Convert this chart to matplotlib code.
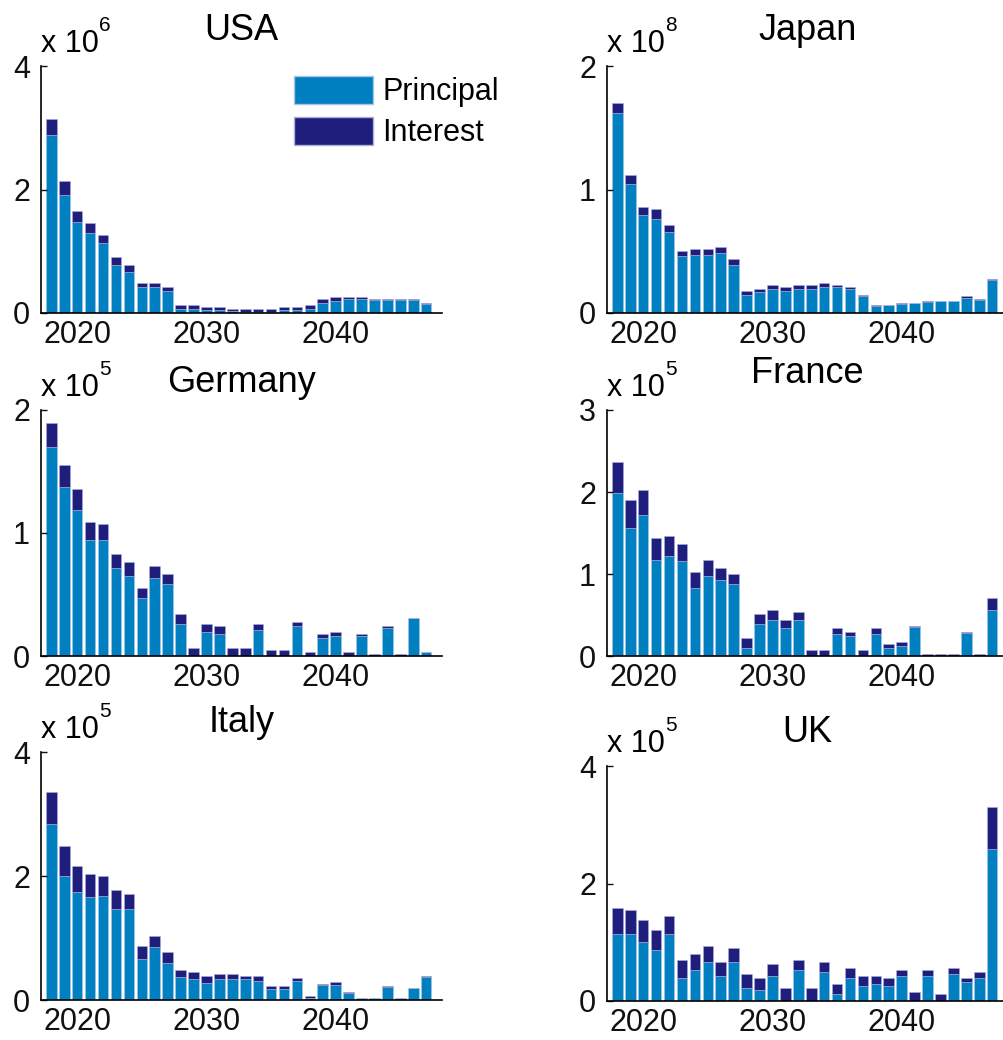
import numpy as np
import matplotlib
matplotlib.use("Agg")
import matplotlib.pyplot as plt
from matplotlib.patches import Patch

plt.rcParams['font.family'] = ['Liberation Sans', 'DejaVu Sans']

years = np.arange(2018, 2048)

# amounts in units of 10^exp, per country
usa_exp = 6
usa_principal = [2.88, 1.91, 1.47, 1.29, 1.13, 0.78, 0.67, 0.42, 0.42, 0.35, 0.065, 0.065, 0.053, 0.053, 0.027,
                 0.02, 0.02, 0.02, 0.045, 0.05, 0.065, 0.162, 0.2, 0.23, 0.23, 0.215, 0.215, 0.215, 0.215, 0.15]
usa_interest = [0.26, 0.22, 0.185, 0.166, 0.131, 0.126, 0.101, 0.065, 0.065, 0.07, 0.07, 0.07, 0.044, 0.044, 0.038,
                0.045, 0.045, 0.045, 0.052, 0.047, 0.07, 0.064, 0.06, 0.03, 0.03, 0.015, 0.015, 0.015, 0.015, 0.01]

japan_exp = 8
japan_principal = [1.623, 1.043, 0.795, 0.763, 0.652, 0.458, 0.472, 0.472, 0.485, 0.391, 0.148, 0.167, 0.194, 0.18, 0.194,
                   0.194, 0.21, 0.21, 0.194, 0.135, 0.059, 0.062, 0.073, 0.078, 0.092, 0.097, 0.098, 0.121, 0.108, 0.264]
japan_interest = [0.075, 0.076, 0.062, 0.078, 0.06, 0.046, 0.046, 0.046, 0.049, 0.046, 0.033, 0.027, 0.032, 0.03, 0.032,
                  0.032, 0.033, 0.016, 0.016, 0.013, 0.008, 0.005, 0.008, 0.003, 0.008, 0.003, 0.002, 0.014, 0.008, 0.011]

germany_exp = 5
germany_principal = [1.696, 1.376, 1.191, 0.947, 0.947, 0.719, 0.654, 0.475, 0.638, 0.589, 0.263, 0, 0.195, 0.182, 0,
                     0, 0.214, 0, 0, 0.247, 0, 0.149, 0.166, 0, 0.166, 0, 0.231, 0, 0.307, 0.033]
germany_interest = [0.195, 0.174, 0.163, 0.144, 0.13, 0.114, 0.111, 0.079, 0.095, 0.079, 0.082, 0.068, 0.065, 0.065, 0.068,
                    0.068, 0.046, 0.049, 0.049, 0.033, 0.033, 0.033, 0.032, 0.033, 0.016, 0.019, 0.016, 0.019, 0.005, 0]

france_exp = 5
france_principal = [1.982, 1.567, 1.718, 1.176, 1.225, 1.156, 0.834, 0.981, 0.932, 0.883, 0.102, 0.395, 0.444, 0.346, 0.444,
                    0, 0, 0.273, 0.248, 0, 0.273, 0.102, 0.126, 0.35, 0, 0, 0, 0.277, 0, 0.566]
france_interest = [0.387, 0.333, 0.305, 0.265, 0.24, 0.212, 0.192, 0.187, 0.138, 0.114, 0.118, 0.114, 0.114, 0.089, 0.089,
                   0.069, 0.069, 0.069, 0.045, 0.069, 0.069, 0.04, 0.045, 0.016, 0.028, 0.028, 0.028, 0.016, 0.028, 0.142]

italy_exp = 5
italy_principal = [2.846, 2.003, 1.75, 1.654, 1.68, 1.46, 1.46, 0.655, 0.848, 0.591, 0.365, 0.333, 0.268, 0.333, 0.333,
                   0.333, 0.3, 0.172, 0.172, 0.3, 0.03, 0.236, 0.236, 0.107, 0.038, 0.038, 0.204, 0.038, 0.193, 0.365]
italy_interest = [0.51, 0.483, 0.414, 0.381, 0.323, 0.312, 0.247, 0.214, 0.183, 0.182, 0.118, 0.118, 0.119, 0.086, 0.086,
                  0.054, 0.087, 0.053, 0.053, 0.054, 0.04, 0.022, 0.054, 0.027, 0.0, 0.0, 0.027, 0.0, 0.0, 0.022]

uk_exp = 5
uk_principal = [1.136, 1.136, 1.006, 0.875, 1.136, 0.398, 0.534, 0.665, 0.432, 0.665, 0.227, 0.193, 0.432, 0, 0.534,
                0, 0.494, 0.125, 0.398, 0.261, 0.295, 0.261, 0.432, 0, 0.432, 0, 0.466, 0.324, 0.398, 2.58]
uk_interest = [0.449, 0.409, 0.369, 0.33, 0.307, 0.295, 0.261, 0.267, 0.233, 0.238, 0.228, 0.199, 0.193, 0.222, 0.159,
               0.222, 0.171, 0.159, 0.165, 0.165, 0.131, 0.131, 0.091, 0.153, 0.091, 0.114, 0.097, 0.068, 0.096, 0.715]

countries = ['USA', 'Japan', 'Germany', 'France', 'Italy', 'UK']
principals = [usa_principal, japan_principal, germany_principal, france_principal, italy_principal, uk_principal]
interests = [usa_interest, japan_interest, germany_interest, france_interest, italy_interest, uk_interest]
exps = [usa_exp, japan_exp, germany_exp, france_exp, italy_exp, uk_exp]
yticks = [[0, 2, 4], [0, 1, 2], [0, 1, 2], [0, 1, 2, 3], [0, 2, 4], [0, 2, 4]]

c_princ = '#0080c0'
c_int = '#201e7c'

W, H = 1004, 1040
fig = plt.figure(figsize=(W / 100, H / 100), dpi=100)

# axes boxes in pixels: left, top, bottom (width is shared)
boxes = [(41, 66, 313), (607, 66, 313),
         (41, 410, 656), (607, 410, 656),
         (41, 752, 1000), (607, 766, 1001)]
title_pads = [19, 19, 13, 19.5, 14.5, 17.5]
axw = 400.7

for i in range(6):
    left, top, bottom = boxes[i]
    ax = fig.add_axes([left / W, (H - bottom) / H, axw / W, (bottom - top) / H])
    p = np.array(principals[i])
    q = np.array(interests[i])
    ax.bar(years, p, width=0.82, color=c_princ, edgecolor='#a9c6e6', linewidth=0.4, label='Principal')
    ax.bar(years, q, bottom=p, width=0.82, color=c_int, edgecolor='#a9b0dc', linewidth=0.4, label='Interest')
    ax.set_xlim(2017.2, 2048.2)
    ax.set_ylim(0, yticks[i][-1])
    ax.set_yticks(yticks[i])
    ax.set_xticks([2020, 2030, 2040])
    for s in ['top', 'right']:
        ax.spines[s].set_visible(False)
    for s in ['left', 'bottom']:
        ax.spines[s].set_linewidth(1.2)
        ax.spines[s].set_zorder(5)
    ax.tick_params(direction='in', length=4, width=1, labelsize=22, colors='#111111')
    ax.tick_params(axis='y', pad=8)
    ax.tick_params(axis='x', pad=5, length=0)
    ax.set_title(countries[i], fontsize=26, pad=title_pads[i])
    ax.annotate('x 10', xy=(0, 1), xycoords='axes fraction', xytext=(0, 10),
                textcoords='offset points', fontsize=22, va='baseline', ha='left')
    ax.annotate(str(exps[i]), xy=(0, 1), xycoords='axes fraction', xytext=(42, 25),
                textcoords='offset points', fontsize=15, va='baseline', ha='left')
    if i == 0:
        handles = [Patch(facecolor=c_princ, edgecolor='#a9c6e6'), Patch(facecolor=c_int, edgecolor='#a9b0dc')]
        ax.legend(handles, ['Principal', 'Interest'], loc='upper left', bbox_to_anchor=(0.631, 0.96),
                  frameon=False, fontsize=22, handlelength=2.6, handleheight=1.05,
                  handletextpad=0.3, labelspacing=0.3, borderpad=0, borderaxespad=0)

fig.savefig('out.png', dpi=100)
